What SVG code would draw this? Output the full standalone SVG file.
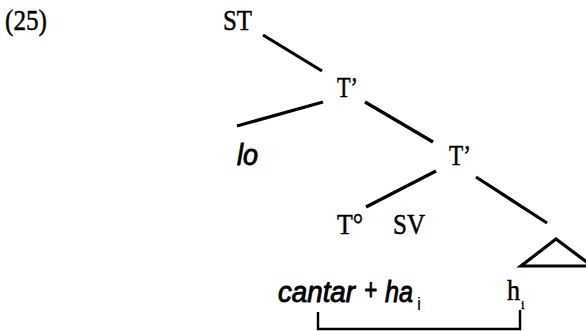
<svg xmlns="http://www.w3.org/2000/svg" width="586" height="331" viewBox="0 0 586 331">
<style>
text{font-family:"Liberation Serif","Times New Roman",serif;font-size:29px;fill:#000;stroke:#000;stroke-width:0.5}
.it{font-family:"Liberation Sans",Arial,sans-serif;font-style:italic;stroke-width:0.9}
.sub{font-family:"Liberation Sans",Arial,sans-serif;font-size:18px;stroke:none}
.sub2{font-size:13px;stroke-width:0.3}
.e{stroke:#000;stroke-width:3.2;fill:none;stroke-linecap:butt}
.b{stroke:#000;stroke-width:2.4;fill:none}
</style>
<rect width="586" height="331" fill="#fff"/>
<text id="label" x="5" y="30" textLength="42" lengthAdjust="spacingAndGlyphs">(25)</text>
<g id="ST"><text x="223" y="30" textLength="29" lengthAdjust="spacingAndGlyphs">ST</text></g>
<g id="T1"><text x="337" y="97" textLength="21" lengthAdjust="spacingAndGlyphs">T’</text></g>
<g id="lo"><text class="it" x="237" y="165" font-size="30" textLength="21" lengthAdjust="spacingAndGlyphs">lo</text></g>
<g id="T2"><text x="449" y="165" textLength="22" lengthAdjust="spacingAndGlyphs">T’</text></g>
<g id="T0"><text x="337" y="234" textLength="26" lengthAdjust="spacingAndGlyphs">T°</text></g>
<g id="SV"><text x="393" y="234" textLength="32" lengthAdjust="spacingAndGlyphs">SV</text></g>
<g id="tri"><polygon class="e" points="556,239 521,266 592,266"/></g>
<g id="cantar"><text class="it" x="278" y="302" font-size="26" textLength="77" lengthAdjust="spacingAndGlyphs">cantar</text><text class="it" x="364" y="300" font-size="22" font-style="normal" textLength="13" lengthAdjust="spacingAndGlyphs">+</text><text class="it" x="385" y="302" font-size="26" textLength="28" lengthAdjust="spacingAndGlyphs">ha</text><text class="sub" x="417" y="310">i</text></g>
<g id="h"><text x="507" y="300" font-size="25" textLength="13" lengthAdjust="spacingAndGlyphs">h</text><text class="sub2" x="521" y="309">i</text></g>
<g id="edges">
<line class="e" x1="263" y1="35" x2="322" y2="71"/>
<line class="e" x1="323" y1="102" x2="237" y2="126"/>
<line class="e" x1="365" y1="102" x2="433" y2="142"/>
<line class="e" x1="436" y1="171" x2="366" y2="207"/>
<line class="e" x1="476" y1="177" x2="547" y2="223"/>
<polyline class="b" points="318,312 318,329 520,329 520,310"/>
</g>
</svg>
